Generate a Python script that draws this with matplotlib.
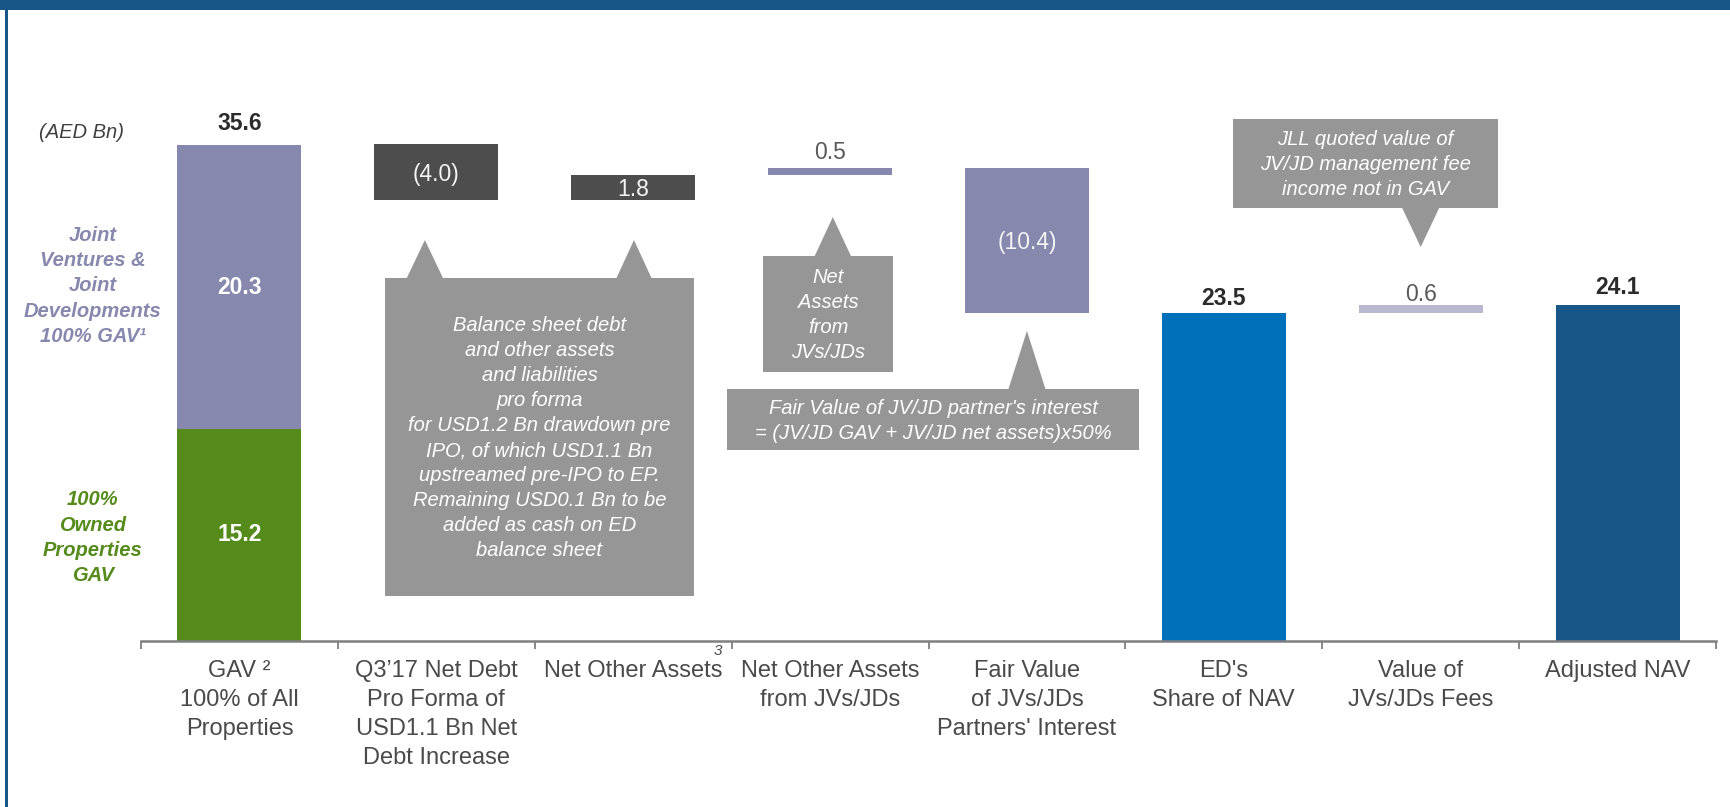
import matplotlib
matplotlib.use("Agg")
import matplotlib.pyplot as plt
from matplotlib.patches import Rectangle, Polygon

plt.rcParams["font.family"] = ["Liberation Sans", "DejaVu Sans"]

# ---- data (AED Bn) ----
categories = [
    "GAV ²\n100% of All\nProperties",
    "Q3’17 Net Debt\nPro Forma of\nUSD1.1 Bn Net\nDebt Increase",
    "Net Other Assets",
    "Net Other Assets\nfrom JVs/JDs",
    "Fair Value\nof JVs/JDs\nPartners' Interest",
    "ED's\nShare of NAV",
    "Value of\nJVs/JDs Fees",
    "Adjusted NAV",
]
values = [35.6, -4.0, 1.8, 0.5, -10.4, 23.5, 0.6, 24.1]
is_total = [True, False, False, False, False, True, False, True]
gav_owned = 15.2   # 100% owned properties GAV
gav_jv = 20.3      # JV / JD 100% GAV

# ---- styles ----
bar_colors = ["#8688AD", "#4D4D4D", "#4D4D4D", "#8688AD", "#8688AD",
              "#0070BA", "#B8B8D0", "#185687"]
green = "#558B1B"
purple = "#8688AD"
callout_gray = "#969696"
navy = "#185687"
label_inside = [False, True, True, False, True, False, False, False]
label_bold = [True, False, False, False, False, True, False, True]
label_gap_pt = [10, 0, 0, 6, 0, 6, 2.5, 7.5]   # baseline gap above bar top

W, H = 1730, 807
fig = plt.figure(figsize=(W / 100, H / 100), dpi=100)
ax = fig.add_axes([141 / W, (H - 641) / H, (1716 - 141) / W, 641 / H])
px_per_unit = 13.96
ax.set_xlim(-0.5, len(categories) - 0.5)
ax.set_ylim(0, 641 / px_per_unit)
ax.set_facecolor("none")

# waterfall geometry
bottoms, heights = [], []
running = 0.0
for v, tot in zip(values, is_total):
    if tot:
        bottoms.append(0.0)
        heights.append(v)
        running = v
    else:
        bottoms.append(running + min(v, 0))
        heights.append(abs(v))
        running += v

width = 0.63
xs = list(range(len(categories)))

# stacked GAV bar
ax.bar(0, gav_owned, width=width, color=green, linewidth=0)
ax.bar(0, gav_jv, bottom=gav_owned, width=width, color=purple, linewidth=0)
ax.text(0, gav_owned / 2, f"{gav_owned:.1f}", ha="center", va="center",
        color="white", fontsize=16.5, fontweight="bold")
ax.text(0, gav_owned + gav_jv / 2, f"{gav_jv:.1f}", ha="center", va="center",
        color="white", fontsize=16.5, fontweight="bold")

for i in xs[1:]:
    ax.bar(i, heights[i], bottom=bottoms[i], width=width,
           color=bar_colors[i], linewidth=0)


def fmt(v):
    return f"({abs(v):.1f})" if v < 0 else f"{v:.1f}"


for i in xs:
    top = bottoms[i] + heights[i]
    if label_inside[i]:
        ax.annotate(fmt(values[i]), (i, bottoms[i] + heights[i] / 2),
                    xytext=(0, -1.5), textcoords="offset points",
                    ha="center", va="center", color="#F4F4F4", fontsize=16.5)
    else:
        ax.annotate(fmt(values[i]), (i, top), xytext=(0, label_gap_pt[i]),
                    textcoords="offset points", ha="center", va="baseline",
                    fontsize=16.5,
                    fontweight="bold" if label_bold[i] else "normal",
                    color="#2B2B2B" if label_bold[i] else "#595959")

# axis styling
for s in ["top", "right", "left"]:
    ax.spines[s].set_visible(False)
ax.spines["bottom"].set_color("#7F7F7F")
ax.spines["bottom"].set_linewidth(1.8)
ax.set_yticks([])
ax.set_xticks([x - 0.5 for x in range(len(categories) + 1)])
ax.set_xticklabels([])
ax.tick_params(axis="x", which="major", length=6, width=1.3, color="#7F7F7F",
               direction="out")
ax.set_xticks(xs, minor=True)
ax.set_xticklabels(categories, minor=True, fontsize=17, color="#4A4A4A",
                   linespacing=1.4)
ax.tick_params(axis="x", which="minor", length=0, pad=14)
ax.text(2.43, -0.75, "3", fontsize=11, style="italic", color="#4A4A4A",
        ha="center", va="center")

# side annotations for the GAV bar
ax.text(-0.80, 36.4, "(AED Bn)", fontsize=14.5, style="italic",
        color="#404040", ha="center", va="center")
ax.text(-0.745, 25.45, "Joint\nVentures &\nJoint\nDevelopments\n100% GAV¹",
        fontsize=14.5, style="italic", fontweight="bold", color=purple,
        ha="center", va="center", linespacing=1.42)
ax.text(-0.745, 7.4, "100%\nOwned\nProperties\nGAV", fontsize=14.5,
        style="italic", fontweight="bold", color=green, ha="center",
        va="center", linespacing=1.42)


def callout(box, tips, text, edge):
    """Grey note box with triangular pointers on its top or bottom edge."""
    x0, x1, y0, y1 = box
    ax.add_patch(Rectangle((x0, y0), x1 - x0, y1 - y0, facecolor=callout_gray,
                           edgecolor="none", zorder=3, clip_on=False))
    base_y = y1 if edge == "top" else y0
    for tx, half, ty in tips:
        ax.add_patch(Polygon([(tx - half, base_y), (tx + half, base_y),
                              (tx, ty)], closed=True, facecolor=callout_gray,
                             edgecolor="none", zorder=3, clip_on=False))
    ax.text((x0 + x1) / 2, (y0 + y1) / 2 - 0.1, text, ha="center",
            va="center", color="white", style="italic", fontsize=14.5,
            linespacing=1.40, zorder=4)


callout((0.739, 2.309, 3.22, 26.0),
        [(0.942, 0.092, 28.72), (2.004, 0.089, 28.72)],
        "Balance sheet debt\nand other assets\nand liabilities\npro forma\n"
        "for USD1.2 Bn drawdown pre\nIPO, of which USD1.1 Bn\n"
        "upstreamed pre-IPO to EP.\nRemaining USD0.1 Bn to be\n"
        "added as cash on ED\nbalance sheet", "top")
callout((2.660, 3.320, 19.27, 27.58), [(3.014, 0.092, 30.37)],
        "Net\nAssets\nfrom\nJVs/JDs", "top")
callout((2.476, 4.570, 13.68, 18.05), [(4.0, 0.094, 22.21)],
        "Fair Value of JV/JD partner's interest\n"
        "= (JV/JD GAV + JV/JD net assets)x50%", "top")
callout((5.046, 6.392, 31.02, 37.39), [(6.0, 0.094, 28.22)],
        "JLL quoted value of\nJV/JD management fee\nincome not in GAV",
        "bottom")

# page frame: header band and left rule
fig.add_artist(Rectangle((0, 1 - 10 / H), 1, 10 / H, transform=fig.transFigure,
                         facecolor=navy, edgecolor="none"))
fig.add_artist(Rectangle((5 / W, 0), 3 / W, 1, transform=fig.transFigure,
                         facecolor=navy, edgecolor="none"))

fig.savefig("out.png", dpi=100)
